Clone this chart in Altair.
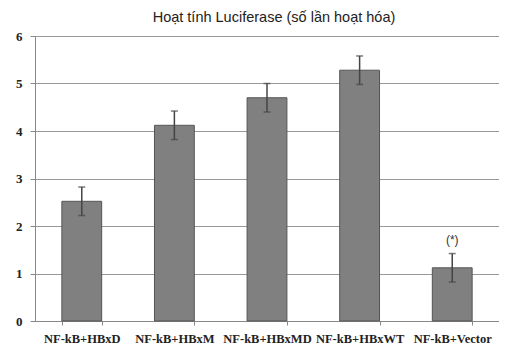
import altair as alt
import pandas as pd

categories = ["NF-kB+HBxD", "NF-kB+HBxM", "NF-kB+HBxMD", "NF-kB+HBxWT", "NF-kB+Vector"]
values = [2.52, 4.12, 4.70, 5.28, 1.12]
errors = [0.30, 0.30, 0.30, 0.30, 0.30]
notes = ["", "", "", "", "(*)"]
y_ticks = [0, 1, 2, 3, 4, 5, 6]
title_text = ["Hoạt tính Luciferase (số lần hoạt hóa)"]

df = pd.DataFrame({
    "cat": categories,
    "val": values,
    "lo": [v - e for v, e in zip(values, errors)],
    "hi": [v + e for v, e in zip(values, errors)],
    "note": notes,
})
tdf = pd.DataFrame({"t": title_text})

x = alt.X("cat:N", sort=categories, title=None,
          scale=alt.Scale(paddingInner=0.57, paddingOuter=0.29),
          axis=alt.Axis(labelAngle=0, labelFont="Liberation Serif", labelFontWeight="bold",
                        labelFontSize=12.5, labelColor="#222", labelPadding=7,
                        tickBand="extent", tickColor="#888", tickSize=4,
                        domainColor="#888", grid=False))
yscale = alt.Scale(domain=[0, 6], nice=False)

bars = alt.Chart(df).mark_bar(color="#808080", stroke="#555", strokeWidth=1).encode(
    x=x,
    y=alt.Y("val:Q", scale=yscale, title=None,
            axis=alt.Axis(values=y_ticks, format="d", labelFont="Liberation Serif",
                          labelFontWeight="bold", labelFontSize=13, labelColor="#222",
                          labelPadding=8, tickColor="#888", tickSize=5, domainColor="#888",
                          gridColor="#999", gridWidth=1)),
)
rule = alt.Chart(df).mark_rule(color="#444", strokeWidth=1.5).encode(
    x=alt.X("cat:N", sort=categories), y=alt.Y("lo:Q", scale=yscale), y2="hi:Q")
cap_hi = alt.Chart(df).mark_tick(color="#444", size=7, thickness=1.5, orient="horizontal").encode(
    x=alt.X("cat:N", sort=categories), y=alt.Y("hi:Q", scale=yscale))
cap_lo = alt.Chart(df).mark_tick(color="#444", size=7, thickness=1.5, orient="horizontal").encode(
    x=alt.X("cat:N", sort=categories), y=alt.Y("lo:Q", scale=yscale))
txt = alt.Chart(df).mark_text(font="Liberation Sans", fontSize=12, color="#333", dy=-7,
                              baseline="bottom").encode(
    x=alt.X("cat:N", sort=categories), y=alt.Y("hi:Q", scale=yscale), text="note:N")
ttl = alt.Chart(tdf).mark_text(font="Liberation Sans", fontSize=14.5, color="#222",
                               baseline="middle", align="center").encode(
    x=alt.value(239), y=alt.value(-18), text="t:N")

chart = alt.layer(bars, rule, cap_hi, cap_lo, txt, ttl).properties(
    width=464, height=285,
    autosize=alt.AutoSizeParams(type="none"),
    padding={"left": 27, "top": 28, "right": 0, "bottom": 27},
).configure_view(stroke=None)

chart.save("out.html", embed_options={"renderer": "svg", "actions": False})
